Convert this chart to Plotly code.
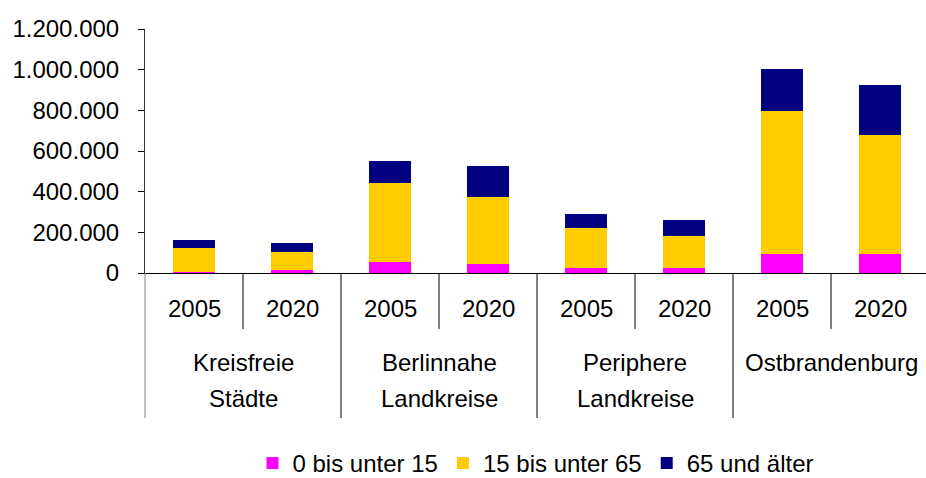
import plotly.graph_objects as go

groups = ["Kreisfreie<br>Städte", "Berlinnahe<br>Landkreise", "Periphere<br>Landkreise", "Ostbrandenburg"]
years = ["2005", "2020"]
cats = [g + " " + y for g in groups for y in years]

# Einwohner nach Altersgruppen
age_0_15 = [3000, 15000, 54000, 44000, 24000, 23000, 95000, 95000]
age_15_65 = [118000, 86000, 391000, 332000, 195000, 157000, 704000, 586000]
age_65 = [41000, 49000, 108000, 148000, 69000, 79000, 206000, 245000]

series = [
    ("0 bis unter 15", age_0_15, "#FF00FF"),
    ("15 bis unter 65", age_15_65, "#FFCC00"),
    ("65 und älter", age_65, "#000080"),
]

y_ticks = [0, 200000, 400000, 600000, 800000, 1000000, 1200000]
y_ticktext = ["0", "200.000", "400.000", "600.000", "800.000", "1.000.000", "1.200.000"]

fig = go.Figure()
for name, vals, col in series:
    fig.add_trace(go.Bar(x=cats, y=vals, name=name, marker_color=col,
                         marker_line_width=0, width=0.42))

# plot area: y=0 at 273px, 1.200.000 at 29px
PLOT_H = 273 - 29

def py(px):
    return -(px - 273) / PLOT_H

shapes = []
# inner dividers (2005 | 2020)
for i in range(len(groups)):
    shapes.append(dict(type="line", xref="x", yref="paper", x0=2 * i + 0.5, x1=2 * i + 0.5,
                       y0=0, y1=py(329), line=dict(color="#000000", width=1)))
# group dividers
shapes.append(dict(type="line", xref="paper", yref="paper", x0=0, x1=0,
                   y0=0, y1=py(418), line=dict(color="#808080", width=1)))
for i in range(1, len(groups)):
    shapes.append(dict(type="line", xref="x", yref="paper", x0=2 * i - 0.5, x1=2 * i - 0.5,
                       y0=0, y1=py(418), line=dict(color="#000000", width=1)))

annotations = []
for i, c in enumerate(cats):
    annotations.append(dict(x=c, xref="x", y=0, yref="paper", yshift=-(308 - 273),
                            text=years[i % 2], showarrow=False, yanchor="middle",
                            font=dict(size=24, color="#000000")))
for gi, g in enumerate(groups):
    lines = g.split("<br>")
    for li, t in enumerate(lines):
        annotations.append(dict(x=2 * gi + 0.5, xref="x", y=0, yref="paper",
                                yshift=-(362 + 36 * li - 273), text=t, showarrow=False,
                                yanchor="middle", font=dict(size=24, color="#000000")))

fig.update_layout(
    barmode="stack",
    width=926, height=478,
    margin=dict(l=145, r=0, t=29, b=205, autoexpand=False),
    plot_bgcolor="#FFFFFF", paper_bgcolor="#FFFFFF",
    font=dict(family="Liberation Sans, Arial, sans-serif", size=24, color="#000000"),
    xaxis=dict(type="category", range=[-0.5, 7.469], showticklabels=False, ticks="",
               showgrid=False, showline=True, linecolor="#000000", linewidth=1,
               zeroline=False, automargin=False),
    yaxis=dict(range=[0, 1200000], tickvals=y_ticks, ticktext=y_ticktext,
               ticks="outside", ticklen=6, tickcolor="#000000", showgrid=False,
               showline=True, linecolor="#333333", linewidth=1, zeroline=False,
               ticklabelstandoff=14, automargin=False),
    legend=dict(orientation="h", x=0.5, xanchor="center", y=py(441), yanchor="top",
                font=dict(size=24), itemwidth=30, traceorder="normal"),
    shapes=shapes,
    annotations=annotations,
    showlegend=True,
)

fig.write_html("out.html", config={"displayModeBar": False},
               post_script="document.body.style.margin='0';")
